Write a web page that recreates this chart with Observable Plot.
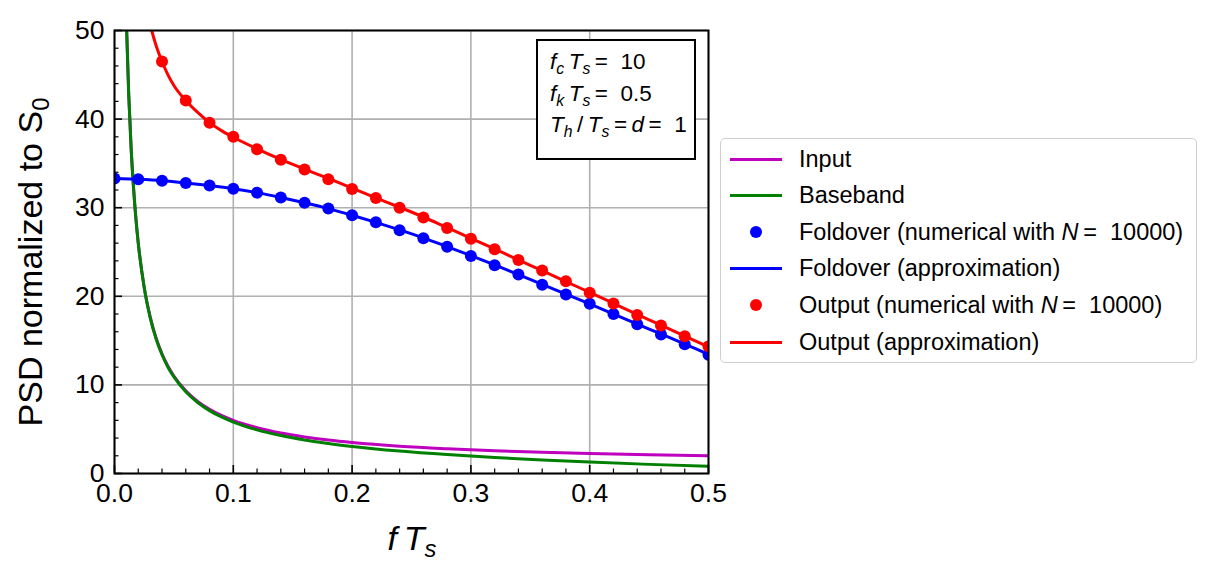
<!DOCTYPE html>
<html>
<head>
<meta charset="utf-8">
<script src="https://cdn.jsdelivr.net/npm/d3@7"></script>
<script src="https://cdn.jsdelivr.net/npm/@observablehq/plot@0.6"></script>
<style>
  html, body { margin: 0; padding: 0; background: #fff; }
  body { font-family: "Liberation Sans", Arial, sans-serif; color: #000; }
  #wrap { position: relative; width: 1216px; height: 583px; overflow: hidden; }
  #wrap svg { position: absolute; left: 0; top: 0; }
  #wrap svg text { font-size: 26.5px !important; font-family: "Liberation Sans", Arial, sans-serif; fill: #000; }
  .lab { position: absolute; white-space: nowrap; line-height: 1; }
  .ylab { font-size: 34px; left: 30px; top: 262px; transform: translate(-50%, -50%) rotate(-90deg); }
  .xlab { font-size: 34px; left: 412px; top: 538px; transform: translate(-50%, -50%); }
  sub { font-size: 0.7em; vertical-align: -0.3em; line-height: 0; }
  #note { position: absolute; left: 536px; top: 39px; width: 156px; height: 117px; border: 2px solid #000; background: #fff; font-size: 22.5px; box-sizing: content-box; }
  #note div { position: absolute; left: 12px; white-space: nowrap; }
  #legend { position: absolute; left: 720px; top: 138px; width: 475px; height: 223px; border: 1.5px solid #cfcfcf; border-radius: 5px; background: #fff; }
  .row { position: absolute; left: 0; height: 30px; display: flex; align-items: center; font-size: 23.5px; white-space: nowrap; }
  .sw { position: relative; width: 52px; height: 30px; margin-left: 9px; margin-right: 17px; }
  .sw .ln { position: absolute; left: 0; top: 13.5px; width: 52px; height: 3px; }
  .sw .dt { position: absolute; left: 20px; top: 9px; width: 12px; height: 12px; border-radius: 50%; }
</style>
</head>
<body>
<div id="wrap"></div>
<script>
// ---------------- data ----------------
// numerical samples every 0.02 in f*Ts
const fSamples = [0, 0.02, 0.04, 0.06, 0.08, 0.10, 0.12, 0.14, 0.16, 0.18, 0.20, 0.22, 0.24,
  0.26, 0.28, 0.30, 0.32, 0.34, 0.36, 0.38, 0.40, 0.42, 0.44, 0.46, 0.48, 0.50];
const foldoverNum = [33.3, 33.2, 33.05, 32.8, 32.5, 32.15, 31.7, 31.15, 30.55, 29.9, 29.15, 28.35, 27.45,
  26.55, 25.6, 24.55, 23.5, 22.45, 21.3, 20.2, 19.15, 18.0, 16.85, 15.7, 14.6, 13.4];
const foldoverApprox = [33.3, 33.2, 33.05, 32.8, 32.5, 32.15, 31.7, 31.15, 30.55, 29.9, 29.15, 28.35, 27.5,
  26.6, 25.6, 24.6, 23.55, 22.45, 21.35, 20.25, 19.15, 18.0, 16.85, 15.75, 14.6, 13.45];

// output samples (the first two lie above the visible range)
const fOutputNum = [0.04, 0.06, 0.08, 0.10, 0.12, 0.14, 0.16, 0.18, 0.20, 0.22, 0.24,
  0.26, 0.28, 0.30, 0.32, 0.34, 0.36, 0.38, 0.40, 0.42, 0.44, 0.46, 0.48, 0.50];
const outputNum = [46.5, 42.1, 39.6, 38.0, 36.6, 35.4, 34.3, 33.2, 32.1, 31.1, 30.0,
  28.9, 27.7, 26.5, 25.3, 24.1, 22.9, 21.7, 20.4, 19.2, 17.9, 16.7, 15.5, 14.35];

const fOutputLine = [0.028, 0.03, 0.035, 0.04, 0.045, 0.05, 0.06, 0.07, 0.08, 0.09, 0.10, 0.12, 0.14,
  0.16, 0.18, 0.20, 0.22, 0.24, 0.26, 0.28, 0.30, 0.32, 0.34, 0.36, 0.38, 0.40, 0.42, 0.44, 0.46, 0.48, 0.50];
const outputApprox = [51.9, 50.7, 48.3, 46.5, 45.0, 43.8, 42.1, 40.75, 39.6, 38.7, 37.95, 36.65, 35.45,
  34.35, 33.3, 32.2, 31.1, 30.05, 28.95, 27.75, 26.55, 25.35, 24.1, 22.9, 21.65, 20.45, 19.2, 17.95, 16.75, 15.5, 14.3];

// input and baseband curves
const fCurve = [0.009, 0.01, 0.012, 0.014, 0.016, 0.018, 0.02, 0.025, 0.03, 0.035, 0.04, 0.045, 0.05,
  0.06, 0.07, 0.08, 0.09, 0.10, 0.12, 0.14, 0.16, 0.18, 0.20, 0.24, 0.28, 0.32, 0.36, 0.40, 0.45, 0.50];
const inputPSD = [56.6, 51.0, 42.7, 36.7, 32.3, 28.8, 26.0, 21.0, 17.7, 15.3, 13.5, 12.1, 11.0,
  9.33, 8.14, 7.25, 6.56, 6.0, 5.17, 4.57, 4.13, 3.78, 3.5, 3.08, 2.79, 2.56, 2.39, 2.25, 2.11, 2.0];
const basebandPSD = [56.6, 51.0, 42.7, 36.7, 32.3, 28.8, 26.0, 21.0, 17.6, 15.2, 13.4, 12.0, 10.9,
  9.22, 8.01, 7.10, 6.38, 5.81, 4.93, 4.28, 3.79, 3.39, 3.06, 2.54, 2.14, 1.81, 1.53, 1.29, 1.03, 0.81];

// ticks
const xMajor = [0, 0.1, 0.2, 0.3, 0.4, 0.5];
const xMinor = [0.02, 0.04, 0.06, 0.08, 0.12, 0.14, 0.16, 0.18, 0.22, 0.24, 0.26, 0.28,
  0.32, 0.34, 0.36, 0.38, 0.42, 0.44, 0.46, 0.48];
const yMajor = [0, 10, 20, 30, 40, 50];
const yMinor = [2, 4, 6, 8, 12, 14, 16, 18, 22, 24, 26, 28, 32, 34, 36, 38, 42, 44, 46, 48];

// legend
const legendLabels = ["Input", "Baseband", "Foldover (numerical with N = 10000)",
  "Foldover (approximation)", "Output (numerical with N = 10000)", "Output (approximation)"];
const legendKinds = ["line", "line", "dot", "line", "dot", "line"];
const legendColors = ["#bf00bf", "#008000", "#0000ff", "#0000ff", "#ff0000", "#ff0000"];

// ---------------- layout ----------------
const W = 1216, H = 583;
const mL = 114, mR = 508, mT = 30, mB = 110;
const innerW = W - mL - mR, innerH = H - mT - mB;

const zip = (xs, ys) => xs.map((x, i) => ({x, y: ys[i]}));
const cInput = "#bf00bf", cBase = "#008000", cBlue = "#0000ff", cRed = "#ff0000";

const chart = Plot.plot({
  width: W, height: H,
  marginLeft: mL, marginRight: mR, marginTop: mT, marginBottom: mB,
  style: {fontFamily: "'Liberation Sans', Arial, sans-serif", fontSize: "26.5px", color: "#000", background: "#fff"},
  x: {domain: [0, 0.5]},
  y: {domain: [0, 50]},
  marks: [
    Plot.gridX(xMajor, {stroke: "#b0b0b0", strokeOpacity: 1, strokeWidth: 1.6}),
    Plot.gridY(yMajor, {stroke: "#b0b0b0", strokeOpacity: 1, strokeWidth: 1.6}),
    Plot.line(zip(fCurve, inputPSD), {x: "x", y: "y", stroke: cInput, strokeWidth: 3, curve: "monotone-x", clip: true}),
    Plot.line(zip(fCurve, basebandPSD), {x: "x", y: "y", stroke: cBase, strokeWidth: 3, curve: "monotone-x", clip: true}),
    Plot.dot(zip(fSamples, foldoverNum), {x: "x", y: "y", r: 6, fill: cBlue, stroke: "none", clip: true}),
    Plot.line(zip(fSamples, foldoverApprox), {x: "x", y: "y", stroke: cBlue, strokeWidth: 3, curve: "monotone-x", clip: true}),
    Plot.dot(zip(fOutputNum, outputNum), {x: "x", y: "y", r: 6, fill: cRed, stroke: "none", clip: true}),
    Plot.line(zip(fOutputLine, outputApprox), {x: "x", y: "y", stroke: cRed, strokeWidth: 3, curve: "monotone-x", clip: true}),
    // inward ticks
    Plot.tickX(xMajor, {x: d => d, insetTop: innerH - 8, stroke: "#000", strokeWidth: 1.6}),
    Plot.tickX(xMinor, {x: d => d, insetTop: innerH - 4.5, stroke: "#000", strokeWidth: 1.2}),
    Plot.tickY(yMajor, {y: d => d, insetRight: innerW - 8, stroke: "#000", strokeWidth: 1.6}),
    Plot.tickY(yMinor, {y: d => d, insetRight: innerW - 4.5, stroke: "#000", strokeWidth: 1.2}),
    Plot.axisX({ticks: xMajor, tickSize: 0, tickPadding: 10, tickFormat: d3.format(".1f"), label: null}),
    Plot.axisY({ticks: yMajor, tickSize: 0, tickPadding: 10, tickFormat: d3.format("d"), label: null}),
    Plot.frame({stroke: "#000", strokeWidth: 2})
  ]
});

const wrap = document.getElementById("wrap");
wrap.appendChild(chart);

// axis labels
const yl = document.createElement("div");
yl.className = "lab ylab";
yl.innerHTML = "PSD normalized to S<sub>0</sub>";
wrap.appendChild(yl);
const xl = document.createElement("div");
xl.className = "lab xlab";
xl.innerHTML = "<i>f</i>&thinsp;<i>T</i><sub><i>s</i></sub>";
wrap.appendChild(xl);

// parameter box
const note = document.createElement("div");
note.id = "note";
const noteLines = [
  "<i>f</i><sub><i>c</i></sub>&thinsp;<i>T</i><sub><i>s</i></sub>&thinsp;= &nbsp;10",
  "<i>f</i><sub><i>k</i></sub>&thinsp;<i>T</i><sub><i>s</i></sub>&thinsp;= &nbsp;0.5",
  "<i>T</i><sub><i>h</i></sub>&thinsp;/&thinsp;<i>T</i><sub><i>s</i></sub>&thinsp;=&thinsp;<i>d</i>&thinsp;= &nbsp;1"
];
noteLines.forEach((h, i) => {
  const d = document.createElement("div");
  d.style.top = (8 + i * 31.5) + "px";
  d.innerHTML = h;
  note.appendChild(d);
});
wrap.appendChild(note);

// legend
const leg = document.createElement("div");
leg.id = "legend";
legendLabels.forEach((lab, i) => {
  const row = document.createElement("div");
  row.className = "row";
  row.style.top = (5 + i * 36.6) + "px";
  const sw = document.createElement("div");
  sw.className = "sw";
  const m = document.createElement("div");
  m.className = legendKinds[i] === "line" ? "ln" : "dt";
  m.style.background = legendColors[i];
  sw.appendChild(m);
  row.appendChild(sw);
  const t = document.createElement("span");
  t.innerHTML = lab.replace("N = ", "<i>N</i>&thinsp;= &nbsp;");
  row.appendChild(t);
  leg.appendChild(row);
});
wrap.appendChild(leg);
</script>
</body>
</html>
